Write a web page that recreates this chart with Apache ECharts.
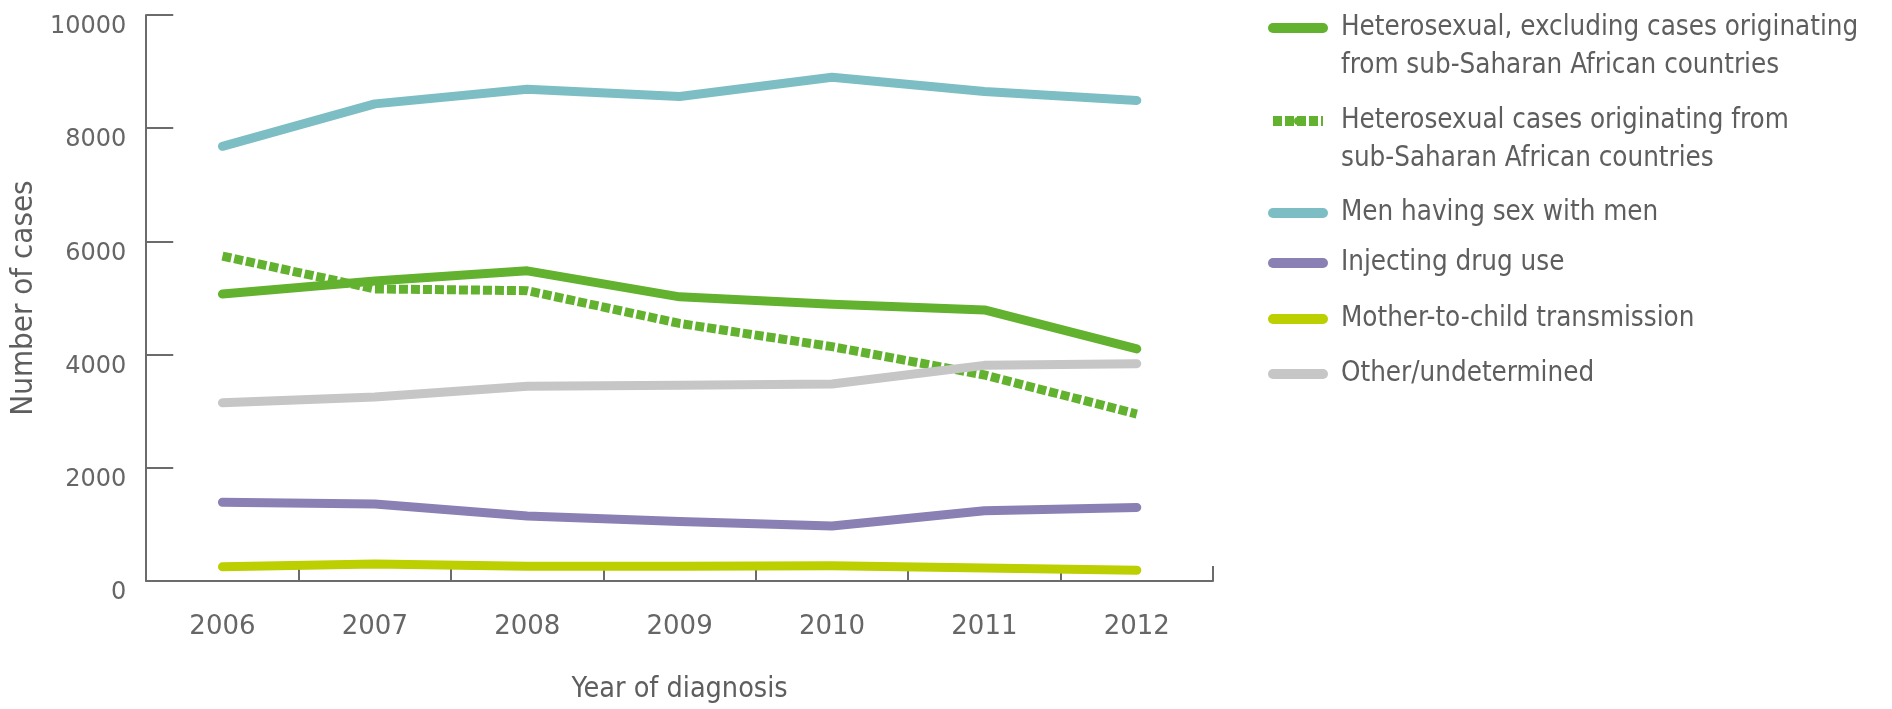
<!DOCTYPE html>
<html>
<head>
<meta charset="utf-8">
<script src="https://cdn.jsdelivr.net/npm/echarts@6/dist/echarts.min.js"></script>
<style>
  html, body { margin: 0; padding: 0; background: #ffffff; }
  #chart { width: 1892px; height: 709px; }
</style>
</head>
<body>
<div id="chart"></div>
<script>
const years = ['2006', '2007', '2008', '2009', '2010', '2011', '2012'];
const yTicks = [0, 2000, 4000, 6000, 8000, 10000];

const hetExcl = [5070, 5300, 5480, 5020, 4890, 4790, 4100];
const hetSSA = [5740, 5160, 5130, 4550, 4140, 3640, 2950];
const msm = [7680, 8430, 8690, 8560, 8900, 8650, 8490];
const idu = [1390, 1360, 1150, 1050, 970, 1240, 1300];
const mtct = [250, 300, 260, 260, 270, 230, 190];
const other = [3150, 3250, 3440, 3460, 3480, 3810, 3840];

const names = [
  'Heterosexual, excluding cases originating\nfrom sub-Saharan African countries',
  'Heterosexual cases originating from\nsub-Saharan African countries',
  'Men having sex with men',
  'Injecting drug use',
  'Mother-to-child transmission',
  'Other/undetermined'
];
const seriesData = [hetExcl, hetSSA, msm, idu, mtct, other];
const colors = ['#62b22f', '#62b22f', '#7cbec4', '#8b80b3', '#bccf00', '#c6c6c6'];
const dashed = [false, true, false, false, false, false];

const legendFont = "'DejaVu Sans Condensed', 'Liberation Sans', sans-serif";
const tickFont = "'DejaVu Sans', sans-serif";
const LH = 38;
// icon centre y for each legend item
const legendIconY = [28, 121, 213, 263, 319, 374];

const legends = names.map((n, i) => {
  const twoLine = n.indexOf('\n') >= 0;
  return {
    orient: 'vertical',
    left: 1268,
    top: twoLine ? legendIconY[i] - 1.5 * LH : legendIconY[i] - LH / 2,
    padding: 0,
    itemWidth: 50,
    itemHeight: 10,
    selectedMode: false,
    lineStyle: { width: 10 },
    data: [n],
    formatter: twoLine ? (name) => ' \n' + name : (name) => name,
    textStyle: {
      fontFamily: legendFont,
      fontSize: 27.5,
      color: '#5e5e5e',
      lineHeight: LH,
      padding: [0, 0, 0, 13]
    }
  };
});

const series = names.map((n, i) => ({
  name: n,
  type: 'line',
  data: seriesData[i],
  symbol: 'none',
  showSymbol: false,
  color: colors[i],
  lineStyle: {
    width: 9,
    color: colors[i],
    type: dashed[i] ? [9, 3] : 'solid',
    cap: dashed[i] ? 'butt' : 'round',
    join: 'round'
  },
  emphasis: { disabled: true }
}));

const chart = echarts.init(document.getElementById('chart'));
chart.setOption({
  animation: false,
  backgroundColor: '#ffffff',
  legend: legends,
  grid: { left: 137, right: 679, top: 15, bottom: 117, containLabel: false },
  xAxis: {
    type: 'category',
    data: years,
    boundaryGap: true,
    name: 'Year of diagnosis',
    nameLocation: 'middle',
    nameGap: 94,
    nameTextStyle: { fontFamily: legendFont, fontSize: 28.5, color: '#5e5e5e' },
    axisLine: { show: true, lineStyle: { color: '#6b6b6b', width: 2 } },
    axisTick: { show: true, inside: true, length: 15, interval: 0, lineStyle: { color: '#6b6b6b', width: 2 } },
    axisLabel: { margin: 33, fontFamily: tickFont, fontSize: 26, color: '#666666', interval: 0 },
    splitLine: { show: false }
  },
  yAxis: {
    type: 'value',
    min: yTicks[0],
    max: yTicks[yTicks.length - 1],
    interval: 2000,
    name: 'Number of cases',
    nameLocation: 'middle',
    nameRotate: 90,
    nameGap: 82,
    nameTextStyle: { fontFamily: legendFont, fontSize: 31, color: '#5e5e5e' },
    axisLine: { show: true, lineStyle: { color: '#6b6b6b', width: 2 } },
    axisTick: { show: true, inside: true, length: 27, lineStyle: { color: '#6b6b6b', width: 2 } },
    axisLabel: {
      margin: 20,
      fontFamily: tickFont,
      fontSize: 24,
      color: '#666666',
      verticalAlign: 'top',
      formatter: (v) => String(v)
    },
    splitLine: { show: false }
  },
  series: series
});
</script>
</body>
</html>
